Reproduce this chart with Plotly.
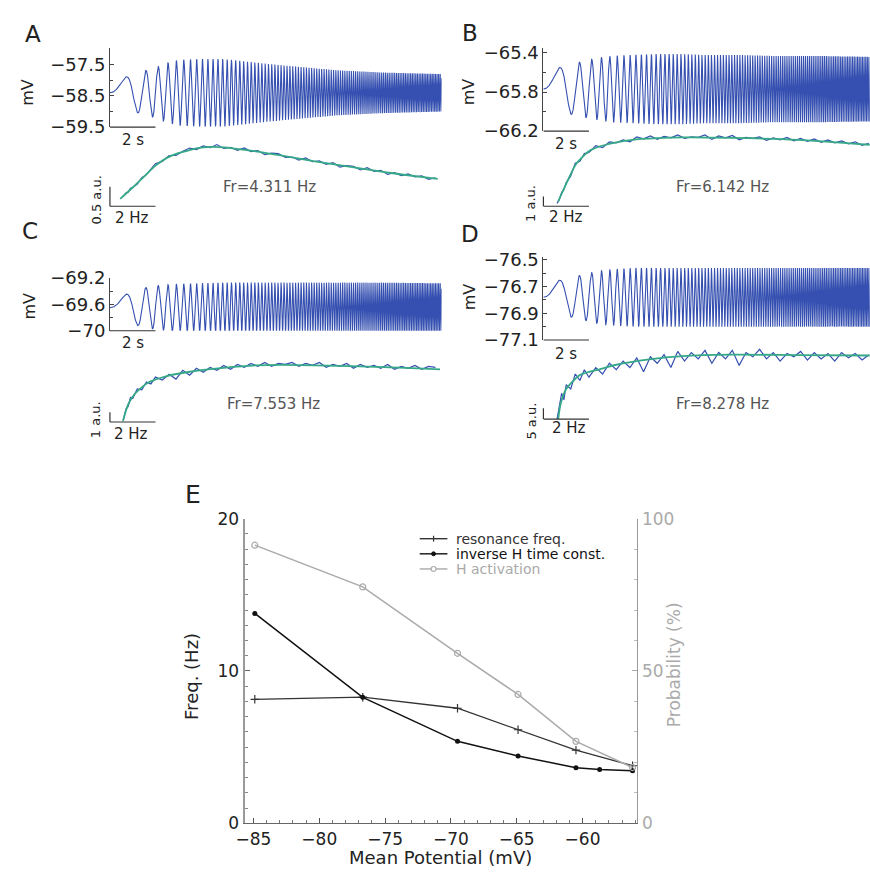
import numpy as np
import plotly.graph_objects as go

W, H = 870, 886
FONT = "DejaVu Sans"
TRACE_BLUE = "#3550b0"
FIT_GREEN = "#35a887"
INK = "#222222"

# ---------------- Panels A-D: voltage response to a 1 Hz/s chirp ----------------
ENV_T = [0, 0.5, 1.0, 1.5, 2.0, 2.5, 3.0, 4.0, 5.0, 6.0, 7.0, 8.5, 10.0, 12.0, 14.6]
ENV_A = [0.40, 0.45, 0.60, 0.70, 0.80, 0.95, 1.05, 1.08, 1.08, 1.00, 0.92, 0.82, 0.72, 0.65, 0.60]
ENV_B = [0.17, 0.20, 0.25, 0.27, 0.30, 0.32, 0.34, 0.35, 0.36, 0.36, 0.35, 0.35, 0.34, 0.34, 0.33]
ENV_C = [0.15, 0.17, 0.25, 0.30, 0.33, 0.35, 0.36, 0.37, 0.38, 0.38, 0.38, 0.38, 0.38, 0.38, 0.37]
ENV_D = [0.10, 0.12, 0.14, 0.16, 0.18, 0.20, 0.21, 0.22, 0.22, 0.22, 0.22, 0.22, 0.22, 0.22, 0.22]
BASELINE = {"A": -58.4, "B": -65.77, "C": -69.65, "D": -76.78}

# Impedance profiles (a.u.) measured on a common frequency grid (Hz)
FREQ = [0.6, 0.7, 0.8, 0.9, 1.0, 1.2, 1.4, 1.6, 1.8, 2.0,
        2.3, 2.6, 2.9, 3.2, 3.5, 3.8, 4.1, 4.4, 4.7, 5.0,
        5.3, 5.6, 5.9, 6.2, 6.5, 6.8, 7.1, 7.4, 7.7, 8.0,
        8.3, 8.6, 8.9, 9.2, 9.5, 9.8, 10.1, 10.4, 10.7, 11.0,
        11.3, 11.6, 11.9, 12.2, 12.5, 12.8, 13.1, 13.4, 13.7, 14.0, 14.3]
Z_A = [0.26, 0.34, 0.36, 0.46, 0.48, 0.57, 0.73, 0.81, 0.95, 1.09,
       1.15, 1.30, 1.30, 1.41, 1.49, 1.45, 1.545, 1.50, 1.58, 1.48,
       1.51, 1.43, 1.495, 1.40, 1.425, 1.32, 1.36, 1.35, 1.25, 1.26,
       1.18, 1.24, 1.14, 1.16, 1.075, 1.12, 1.00, 1.04, 1.025, 0.93,
       0.99, 0.895, 0.92, 0.815, 0.86, 0.785, 0.83, 0.75, 0.78, 0.69, 0.73]
Z_B = [0.3, 0.7, 1.4, 1.7, 2.4, 3.1, 4.4, 4.6, 5.4, 5.5,
       6.2, 6.0, 6.6, 6.5, 6.8, 6.6, 7.1, 6.9, 7.2, 6.85,
       7.15, 7.0, 7.3, 6.95, 7.1, 7.05, 7.3, 6.85, 7.2, 7.0,
       7.25, 6.8, 7.05, 6.95, 7.1, 6.75, 7.0, 6.8, 7.05, 6.7,
       6.95, 6.65, 6.9, 6.55, 6.8, 6.5, 6.7, 6.4, 6.6, 6.25, 6.45]
Z_C = [0.3, 1.3, 1.6, 2.5, 2.4, 3.4, 3.3, 4.1, 3.9, 4.6,
       4.3, 4.9, 4.4, 5.3, 4.8, 5.5, 5.1, 5.6, 5.3, 5.8,
       5.4, 5.9, 5.6, 6.0, 5.7, 6.1, 5.7, 6.0, 5.9, 6.1,
       5.7, 6.0, 5.8, 6.1, 5.6, 5.9, 5.7, 6.0, 5.5, 5.9,
       5.6, 5.8, 5.5, 5.9, 5.4, 5.7, 5.5, 5.8, 5.4, 5.7, 5.6]
Z_D = [0, 6, 12, 9, 16, 14, 21, 18, 23, 19.5,
       24, 21, 26, 23, 27, 24, 28.5, 22, 29, 26,
       30, 24, 31.5, 27, 31, 28, 32, 26, 31, 28,
       32, 25, 31, 29, 32.5, 28, 31, 27, 30.5, 29,
       31.5, 27.5, 31, 28, 30.5, 27, 31, 28.5, 30.5, 27.5, 30]

# Fitted impedance curves
FIT_A_F = [0.45, 1.0, 1.5, 2.0, 2.5, 3.0, 3.5, 4.0, 4.5, 5.0, 6.0, 7.0, 8.0, 9.0, 10.0, 11.0, 12.0, 13.0, 14.4]
FIT_A_Z = [0.19, 0.48, 0.76, 1.04, 1.24, 1.36, 1.44, 1.50, 1.52, 1.51, 1.44, 1.35, 1.25, 1.15, 1.06, 0.97, 0.88, 0.80, 0.70]
FIT_B_F = [0.65, 1.0, 1.43, 2.04, 2.74, 3.91, 5.0, 6.14, 8.26, 11.17, 14.34]
FIT_B_Z = [0.5, 2.3, 4.3, 5.7, 6.3, 6.8, 6.97, 7.05, 7.0, 6.8, 6.3]
FIT_C_F = [0.57, 0.8, 1.1, 1.65, 2.5, 3.5, 5.0, 6.4, 7.55, 9.0, 11.0, 13.0, 14.5]
FIT_C_Z = [0.1, 1.8, 2.9, 4.0, 4.7, 5.15, 5.55, 5.8, 5.85, 5.8, 5.7, 5.55, 5.4]
FIT_D_F = [0.65, 0.75, 1.0, 1.6, 2.5, 3.2, 4.65, 6.1, 8.28, 11.2, 14.34]
FIT_D_Z = [0.0, 6.8, 14.0, 20.5, 23.3, 25.3, 27.8, 29.3, 30.0, 29.8, 29.6]

FR_TEXT = {"A": "Fr=4.311 Hz", "B": "Fr=6.142 Hz", "C": "Fr=7.553 Hz", "D": "Fr=8.278 Hz"}

# ---------------- Panel E ----------------
V_RES = [-84.9, -76.7, -69.5, -64.9, -60.5, -56.2]
F_RES = [8.14, 8.278, 7.553, 6.142, 4.8, 3.78]
V_INV = [-84.9, -76.7, -69.5, -64.9, -60.5, -58.7, -56.2]
F_INV = [13.78, 8.27, 5.38, 4.42, 3.65, 3.53, 3.45]
V_ACT = [-84.9, -76.7, -69.5, -64.9, -60.5, -56.2]
P_ACT = [91.3, 77.6, 55.8, 42.3, 26.9, 18.3]
E_XTICKS = [-85, -80, -75, -70, -65, -60]


def px_x(px):
    return px / W


def px_y(py):
    return 1 - py / H


def dom_x(zero_px, scale, lo, hi):
    return [max(0.0, px_x(zero_px + lo * scale)), min(1.0, px_x(zero_px + hi * scale))]


def dom_y(ref_px, ref_val, scale, lo, hi):
    return [max(0.0, px_y(ref_px - (lo - ref_val) * scale)),
            min(1.0, px_y(ref_px - (hi - ref_val) * scale))]


def minus(v):
    s = f"{v:g}"
    return s.replace("-", "\u2212")


PANELS = [
    dict(key="A", env=ENV_A, z=Z_A, fit=(FIT_A_F, FIT_A_Z), x0=102, t_max=14.57,
         v_ref=(55, -57.5, 32), v_rng=(-59.5, -56.97),
         yticks=[-59.5, -58.5, -57.5], yminor=[-59.0, -58.0],
         z_ref=(200, 0, 40), z_rng=(-0.06, 1.8), bar=0.5, bar_txt="0.5 a.u.",
         letter=(24, 24), mv=(18, 83), s_lbl=(125, 132), hz_lbl=(124, 212),
         au_lbl=(88, 194), fr_lbl=(263, 180)),
    dict(key="B", env=ENV_B, z=Z_B, fit=(FIT_B_F, FIT_B_Z), x0=540, t_max=14.34,
         v_ref=(83, -65.8, 100), v_rng=(-66.2, -65.35),
         yticks=[-66.2, -65.8, -65.4], yminor=[-66.0, -65.6],
         z_ref=(200, 0, 10), z_rng=(-0.3, 7.6), bar=1, bar_txt="1 a.u.",
         letter=(466, 23), mv=(464, 83), s_lbl=(563, 136), hz_lbl=(563, 211),
         au_lbl=(527, 197), fr_lbl=(721, 180)),
    dict(key="C", env=ENV_C, z=Z_C, fit=(FIT_C_F, FIT_C_Z), x0=102, t_max=14.57,
         v_ref=(300.5, -69.6, 67.5), v_rng=(-70.0, -69.2),
         yticks=[-70.0, -69.6, -69.2], yminor=[-69.8, -69.4],
         z_ref=(421, 0, 10), z_rng=(-0.3, 7.0), bar=1, bar_txt="1 a.u.",
         letter=(21, 225), mv=(21, 302), s_lbl=(125, 340), hz_lbl=(123, 433),
         au_lbl=(87, 419), fr_lbl=(267, 403)),
    dict(key="D", env=ENV_D, z=Z_D, fit=(FIT_D_F, FIT_D_Z), x0=540, t_max=14.34,
         v_ref=(296, -76.8, 136.7), v_rng=(-77.1, -76.48),
         yticks=[-77.1, -76.9, -76.7, -76.5], yminor=[-77.0, -76.8, -76.6],
         z_ref=(418, 0, 2.2), z_rng=(-1.5, 36), bar=5, bar_txt="5 a.u.",
         letter=(466, 228), mv=(465, 293), s_lbl=(563, 351), hz_lbl=(566, 427),
         au_lbl=(528, 420), fr_lbl=(721, 403)),
]

PX_PER_UNIT = 23  # horizontal pixels per second / per Hz

fig = go.Figure()
layout = {}
shapes = []
annotations = []


def add_text(text, xy, size, color=INK, angle=0, xanchor="center", yanchor="middle"):
    annotations.append(dict(text=text, x=px_x(xy[0]), y=px_y(xy[1]), xref="paper", yref="paper",
                            showarrow=False, textangle=angle, xanchor=xanchor, yanchor=yanchor,
                            font=dict(family=FONT, size=size, color=color)))


for i, p in enumerate(PANELS):
    nv = 2 * i + 1   # voltage trace axes
    nz = 2 * i + 2   # impedance axes
    sv = "" if nv == 1 else str(nv)
    sz = str(nz)

    # voltage trace: chirp with instantaneous frequency f(t) = t
    t = np.linspace(0, p["t_max"], 6000)
    env = np.interp(t, ENV_T, p["env"])
    v = BASELINE[p["key"]] + env * np.sin(np.pi * t ** 2)
    fig.add_trace(go.Scatter(x=t, y=v, mode="lines", xaxis="x" + sv, yaxis="y" + sv,
                             line=dict(color=TRACE_BLUE, width=1.1), showlegend=False,
                             hoverinfo="skip"))

    ref_px, ref_val, scl = p["v_ref"]
    layout["xaxis" + sv] = dict(domain=dom_x(p["x0"], PX_PER_UNIT, 0, p["t_max"]),
                                range=[0, p["t_max"]], anchor="y" + sv, visible=False)
    layout["yaxis" + sv] = dict(
        domain=dom_y(ref_px, ref_val, scl, *p["v_rng"]), range=list(p["v_rng"]),
        anchor="x" + sv, tickvals=p["yticks"], ticktext=[minus(x) for x in p["yticks"]],
        ticks="inside", ticklen=4, tickcolor="#444", showline=True, linecolor="#444",
        linewidth=1, showgrid=False, zeroline=False,
        tickfont=dict(family=FONT, size=18, color=INK),
        minor=dict(tickvals=p["yminor"], ticks="inside", ticklen=3, tickcolor="#444"))

    # 2 s time bar along the bottom of the trace
    shapes.append(dict(type="line", xref="x" + sv, yref="y" + sv + " domain",
                       x0=0, x1=2, y0=0, y1=0, line=dict(color="#333", width=1.2)))

    # impedance profile
    fig.add_trace(go.Scatter(x=FREQ, y=p["z"], mode="lines", xaxis="x" + sz, yaxis="y" + sz,
                             line=dict(color=TRACE_BLUE, width=1.2), showlegend=False,
                             hoverinfo="skip"))
    fig.add_trace(go.Scatter(x=p["fit"][0], y=p["fit"][1], mode="lines", xaxis="x" + sz,
                             yaxis="y" + sz, line=dict(color=FIT_GREEN, width=1.8,
                                                       shape="spline", smoothing=0.6),
                             showlegend=False, hoverinfo="skip"))
    zr_px, zr_val, zscl = p["z_ref"]
    layout["xaxis" + sz] = dict(domain=dom_x(p["x0"], PX_PER_UNIT, 0, p["t_max"]),
                                range=[0, p["t_max"]], anchor="y" + sz, visible=False)
    layout["yaxis" + sz] = dict(domain=dom_y(zr_px, zr_val, zscl, *p["z_rng"]),
                                range=list(p["z_rng"]), anchor="x" + sz, visible=False)
    # 2 Hz and amplitude scale bars
    shapes.append(dict(type="line", xref="x" + sz, yref="y" + sz, x0=0, x1=2, y0=0, y1=0,
                       line=dict(color="#333", width=1.2)))
    shapes.append(dict(type="line", xref="x" + sz + " domain", yref="y" + sz, x0=0, x1=0,
                       y0=0, y1=p["bar"], line=dict(color="#333", width=1.2)))

    add_text(p["key"], p["letter"], 23)
    add_text("mV", p["mv"], 16, angle=-90)
    add_text("2 s", p["s_lbl"], 15)
    add_text("2 Hz", p["hz_lbl"], 15)
    add_text(p["bar_txt"], p["au_lbl"], 13, angle=-90)
    add_text(FR_TEXT[p["key"]], p["fr_lbl"], 15, color="#555")

# ---------------- Panel E ----------------
fig.add_trace(go.Scatter(x=V_ACT, y=P_ACT, mode="lines+markers", xaxis="x9", yaxis="y10",
                         name="H activation",
                         line=dict(color="#aaaaaa", width=1.5),
                         marker=dict(symbol="circle-open", size=6, color="#aaaaaa",
                                     line=dict(width=1.2)),
                         showlegend=False))
fig.add_trace(go.Scatter(x=V_RES, y=F_RES, mode="lines+markers", xaxis="x9", yaxis="y9",
                         name="resonance freq.",
                         line=dict(color="#333333", width=1.3),
                         marker=dict(symbol="cross-thin", size=6, color="#333333",
                                     line=dict(width=1.2, color="#333333")),
                         showlegend=False))
fig.add_trace(go.Scatter(x=V_INV, y=F_INV, mode="lines+markers", xaxis="x9", yaxis="y9",
                         name="inverse H time const.",
                         line=dict(color="#111111", width=1.5),
                         marker=dict(symbol="circle", size=5, color="#111111"),
                         showlegend=False))

E_LEFT, E_RIGHT, E_TOP, E_BOT = 238, 635, 520, 832
layout["xaxis9"] = dict(domain=[px_x(E_LEFT), px_x(E_RIGHT)], range=[-85.68, -55.83],
                        anchor="y9", tickvals=E_XTICKS, ticktext=[minus(x) for x in E_XTICKS],
                        ticks="inside", ticklen=5, tickcolor="#555", showline=True,
                        linecolor="#666", linewidth=1.2, showgrid=False, zeroline=False,
                        tickfont=dict(family=FONT, size=17, color=INK),
                        minor=dict(tick0=-85, dtick=1, ticks="inside", ticklen=3,
                                   tickcolor="#777"))
layout["yaxis9"] = dict(domain=[px_y(E_BOT), px_y(E_TOP)], range=[0, 20], anchor="x9",
                        tickvals=[0, 10, 20], ticks="inside", ticklen=5, tickcolor="#666",
                        showline=True, linecolor="#9a9a9a", linewidth=2, showgrid=False,
                        zeroline=False, tickfont=dict(family=FONT, size=17, color=INK),
                        minor=dict(dtick=1, ticks="inside", ticklen=3, tickcolor="#888"))
layout["yaxis10"] = dict(domain=[px_y(E_BOT), px_y(E_TOP)], range=[0, 100], anchor="x9",
                         overlaying="y9", side="right", tickvals=[0, 50, 100],
                         ticks="inside", ticklen=5, tickcolor="#aaa", showline=True,
                         linecolor="#999", linewidth=1.2, showgrid=False, zeroline=False,
                         tickfont=dict(family=FONT, size=17, color="#aaaaaa"),
                         minor=dict(dtick=10, ticks="inside", ticklen=3, tickcolor="#bbb"))

add_text("E", (186, 495), 25)
add_text("Freq. (Hz)", (185, 682), 18, angle=-90)
add_text("Probability (%)", (672, 670), 17, color="#aaaaaa", angle=-90)
add_text("Mean Potential (mV)", (436, 867), 18)

# legend drawn as key samples with labels
LEGEND_ROWS = [("resonance freq.", "#333333", "cross", 540.5),
               ("inverse H time const.", "#111111", "dot", 556),
               ("H activation", "#aaaaaa", "ring", 571.5)]
for label, col, kind, yy in LEGEND_ROWS:
    shapes.append(dict(type="line", xref="paper", yref="paper", x0=px_x(415), x1=px_x(443),
                       y0=px_y(yy), y1=px_y(yy), line=dict(color=col, width=1.4)))
    if kind == "cross":
        shapes.append(dict(type="line", xref="paper", yref="paper", x0=px_x(429), x1=px_x(429),
                           y0=px_y(yy - 3), y1=px_y(yy + 3), line=dict(color=col, width=1.2)))
    elif kind == "dot":
        shapes.append(dict(type="circle", xref="paper", yref="paper", x0=px_x(427), x1=px_x(431),
                           y0=px_y(yy + 2), y1=px_y(yy - 2), fillcolor=col,
                           line=dict(color=col, width=1)))
    else:
        shapes.append(dict(type="circle", xref="paper", yref="paper", x0=px_x(426.5),
                           x1=px_x(431.5), y0=px_y(yy + 2.5), y1=px_y(yy - 2.5),
                           fillcolor="white", line=dict(color=col, width=1.2)))
    add_text(label, (450, yy), 14, color=col, xanchor="left")

fig.update_layout(**layout)
fig.update_layout(width=W, height=H, autosize=False, margin=dict(l=0, r=0, t=0, b=0),
                  paper_bgcolor="white", plot_bgcolor="rgba(0,0,0,0)",
                  shapes=shapes, annotations=annotations, showlegend=False,
                  font=dict(family=FONT, color=INK))

# the page body gets no default margin so the figure sits at the window origin
fig.write_html("out.html",
               post_script="document.body.style.margin='0';"
                           "document.documentElement.style.overflow='hidden';")
